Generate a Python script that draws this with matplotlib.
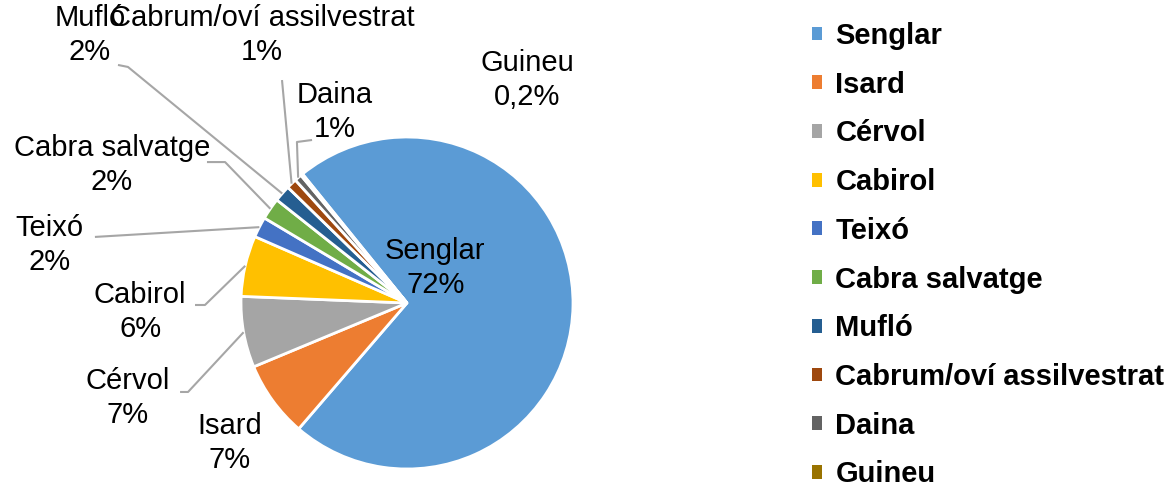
import matplotlib.pyplot as plt
from matplotlib.patches import Patch
import numpy as np

plt.rcParams['font.family'] = ['Liberation Sans', 'DejaVu Sans']

species = ['Senglar', 'Isard', 'Cérvol', 'Cabirol', 'Teixó', 'Cabra salvatge',
           'Mufló', 'Cabrum/oví assilvestrat', 'Daina', 'Guineu']
share = [72.0, 7.4, 6.9, 5.9, 2.0, 2.1, 1.6, 1.0, 0.7, 0.2]
colors = ['#5B9BD5', '#ED7D31', '#A5A5A5', '#FFC000', '#4472C4', '#70AD47',
          '#255E91', '#9E480E', '#636363', '#997300']

# label layout (data units, pie radius = 1)
label_pos = [(0.17, 0.21), (-1.066, -0.843), (-1.681, -0.572), (-1.608, -0.054),
             (-2.151, 0.349), (-1.777, 0.831), (-1.91, 1.614), (-0.873, 1.614),
             (-0.434, 1.151), (0.723, 1.343)]
# leader line bends/ends after the wedge edge point (None = no line)
leaders = [None, None,
           [(-1.319, -0.536), (-1.367, -0.536)],
           [(-1.217, -0.012), (-1.277, -0.012)],
           [(-1.88, 0.398)],
           [(-1.096, 0.849), (-1.205, 0.849)],
           [(-1.681, 1.422), (-1.741, 1.434)],
           [(-0.753, 1.343)],
           [(-0.663, 0.970), (-0.572, 0.982)],
           None]

def fmt(v):
    p = v / sum(share) * 100
    if p < 0.5:
        return ('%.1f%%' % p).replace('.', ',')
    return '%d%%' % round(p)

fig = plt.figure(figsize=(11.68, 4.92), dpi=100)
ax = fig.add_axes([0, 0, 1, 1])
wedges, _ = ax.pie(share, colors=colors, startangle=129, counterclock=False,
                   wedgeprops=dict(edgecolor='white', linewidth=2))

for i, w in enumerate(wedges):
    tx, ty = label_pos[i]
    ax.text(tx, ty, species[i] + '\n' + fmt(share[i]), ha='center', va='center',
            fontsize=21, color='#000000', linespacing=1.25)
    if leaders[i] is not None:
        mid = np.deg2rad((w.theta1 + w.theta2) / 2)
        pts = [(np.cos(mid), np.sin(mid))] + leaders[i]
        xs, ys = zip(*pts)
        ax.plot(xs, ys, color='#A6A6A6', lw=1.5, solid_capstyle='butt')

ax.set_xlim(-407 / 166, (1168 - 407) / 166)
ax.set_ylim(-(492 - 303) / 166, 303 / 166)
ax.set_aspect('auto')
ax.axis('off')

handles = [Patch(facecolor=c, edgecolor='none') for c in colors]
fig.legend(handles, species, loc='upper left', bbox_to_anchor=(812 / 1168, 1 - 22 / 492),
           frameon=False, prop=dict(size=21, weight='bold'), handlelength=0.35,
           handleheight=0.35, handletextpad=0.45, labelspacing=0.71, borderpad=0,
           borderaxespad=0)

fig.savefig('out.png', dpi=100)
